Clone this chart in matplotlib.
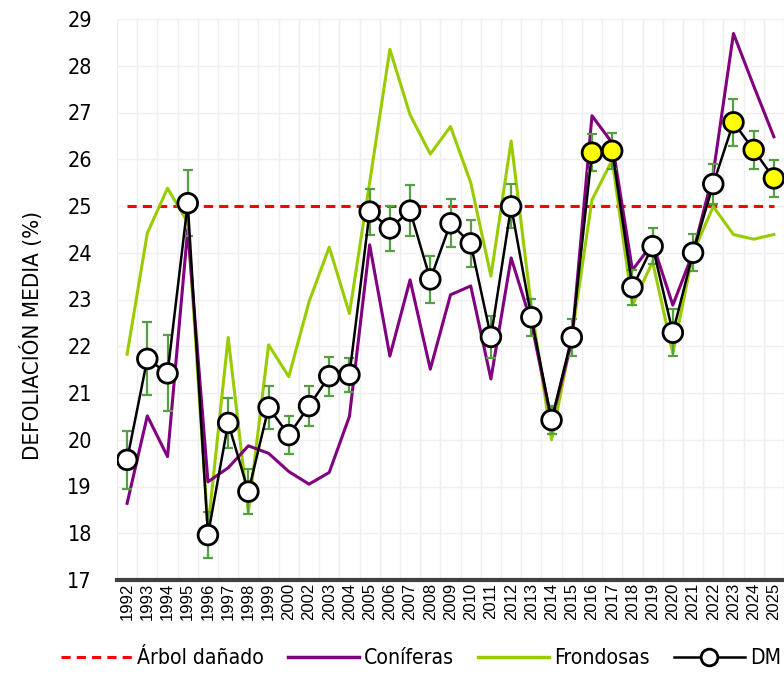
import matplotlib
matplotlib.use("Agg")
import matplotlib.pyplot as plt
from matplotlib.lines import Line2D
from matplotlib import font_manager as fm
import numpy as np

years = ["1992", "1993", "1994", "1995", "1996", "1997", "1998", "1999", "2000",
         "2002", "2003", "2004", "2005", "2006", "2007", "2008", "2009", "2010",
         "2011", "2012", "2013", "2014", "2015", "2016", "2017", "2018", "2019",
         "2020", "2021", "2022", "2023", "2024", "2025"]

dm = [19.57, 21.73, 21.42, 25.06, 17.96, 20.36, 18.89, 20.69, 20.10,
      20.72, 21.36, 21.39, 24.88, 24.52, 24.90, 23.43, 24.63, 24.20,
      22.20, 24.99, 22.62, 20.42, 22.19, 26.14, 26.18, 23.26, 24.14,
      22.29, 24.00, 25.47, 26.79, 26.20, 25.59]

dm_err = [0.62, 0.78, 0.81, 0.70, 0.50, 0.53, 0.48, 0.45, 0.40,
          0.43, 0.42, 0.36, 0.49, 0.48, 0.55, 0.50, 0.51, 0.50,
          0.45, 0.47, 0.40, 0.30, 0.40, 0.40, 0.39, 0.38, 0.38,
          0.50, 0.40, 0.43, 0.50, 0.40, 0.39]

coniferas = [18.64, 20.51, 19.64, 24.50, 19.10, 19.40, 19.87, 19.71, 19.32,
             19.05, 19.30, 20.50, 24.17, 21.79, 23.42, 21.51, 23.10, 23.29,
             21.30, 23.89, 22.50, 20.40, 22.10, 26.93, 26.35, 23.63, 24.20,
             22.88, 24.00, 25.70, 28.69, 27.57, 26.48]

frondosas = [21.83, 24.42, 25.38, 24.65, 18.11, 22.19, 18.46, 22.03, 21.35,
             22.95, 24.12, 22.70, 25.50, 28.35, 26.95, 26.11, 26.70, 25.50,
             23.50, 26.39, 22.85, 20.00, 22.20, 25.13, 25.98, 22.88, 23.81,
             21.85, 24.00, 24.99, 24.39, 24.29, 24.39]

highlight_years = ["2016", "2017", "2023", "2024", "2025"]
umbral = 25

# pick a condensed font if one is installed
cond_prop = None
for f in fm.fontManager.ttflist:
    nm = f.name
    if (("Condensed" in nm or "Narrow" in nm or f.stretch in ("condensed", "semi-condensed"))
            and f.style == "normal" and f.weight in (400, "normal", "regular")):
        cond_prop = fm.FontProperties(fname=f.fname)
        break
condensed = cond_prop is not None


def cprop(size):
    if condensed:
        p = cond_prop.copy()
        p.set_size(size)
        return p
    return fm.FontProperties(family=["Roboto", "DejaVu Sans"], size=size * 0.92)


fig = plt.figure(figsize=(7.84, 6.73), dpi=100)
ax = fig.add_axes([117 / 784, 1 - 580 / 673, (784 - 117) / 784, (580 - 19) / 673])

x = np.arange(len(years))

ax.set_xlim(-0.5, len(years) - 0.5)
ax.set_ylim(17, 29)

for b in np.arange(-0.5, len(years), 1.0):
    ax.axvline(b, color="#efefef", lw=1.0, zorder=0)
for yv in range(17, 30):
    ax.axhline(yv, color="#efefef", lw=1.0, zorder=0)

ax.plot([x[0], x[-1]], [umbral, umbral], color="#ff0000", lw=2.2,
        dashes=(3, 2), zorder=2)

ax.plot(x, frondosas, color="#99cc00", lw=2.2, zorder=3)
ax.plot(x, coniferas, color="#800080", lw=2.2, zorder=3)

ax.errorbar(x, dm, yerr=dm_err, fmt="none", ecolor="#55a043", elinewidth=1.6,
            capsize=3.5, capthick=1.6, zorder=4)

ax.plot(x, dm, color="black", lw=1.8, zorder=5)
face = ["#ffff00" if y in highlight_years else "white" for y in years]
ax.scatter(x, dm, s=200, c=face, edgecolors="black", linewidths=2.0, zorder=6)

for s in ["left", "right", "top"]:
    ax.spines[s].set_visible(False)
ax.spines["bottom"].set_color("#404040")
ax.spines["bottom"].set_linewidth(3)

ax.set_xticks(x)
ax.set_xticklabels(years, rotation=90)
ax.set_yticks(range(17, 30))
ax.set_yticklabels([str(v) for v in range(17, 30)])
ax.tick_params(axis="both", length=0)
ax.tick_params(axis="y", pad=18)
ax.tick_params(axis="x", pad=2, labelsize=12)
for lab in ax.get_xticklabels():
    lab.set_fontfamily(["Liberation Sans", "DejaVu Sans"])
    lab.set_fontsize(12)
for lab in ax.get_yticklabels():
    lab.set_fontproperties(cprop(15.5))

fig.text(32 / 784, 1 - 335 / 673, "DEFOLIACIÓN MEDIA (%)", rotation=90,
         ha="center", va="center", fontproperties=cprop(16))

handles = [
    Line2D([], [], color="#ff0000", lw=2.2, dashes=(3, 2)),
    Line2D([], [], color="#800080", lw=2.5),
    Line2D([], [], color="#99cc00", lw=2.5),
    Line2D([], [], color="black", lw=1.8, marker="o", markersize=12,
           markerfacecolor="white", markeredgecolor="black", markeredgewidth=2),
]
labels = ["Árbol dañado", "Coníferas", "Frondosas", "DM"]
fig.legend(handles, labels, loc="center", bbox_to_anchor=(0.537, 1 - 658 / 673),
           ncol=4, frameon=False, handlelength=3.35, handletextpad=0.25,
           columnspacing=1.15, prop=cprop(15.2))

fig.savefig("out.png", dpi=100)
